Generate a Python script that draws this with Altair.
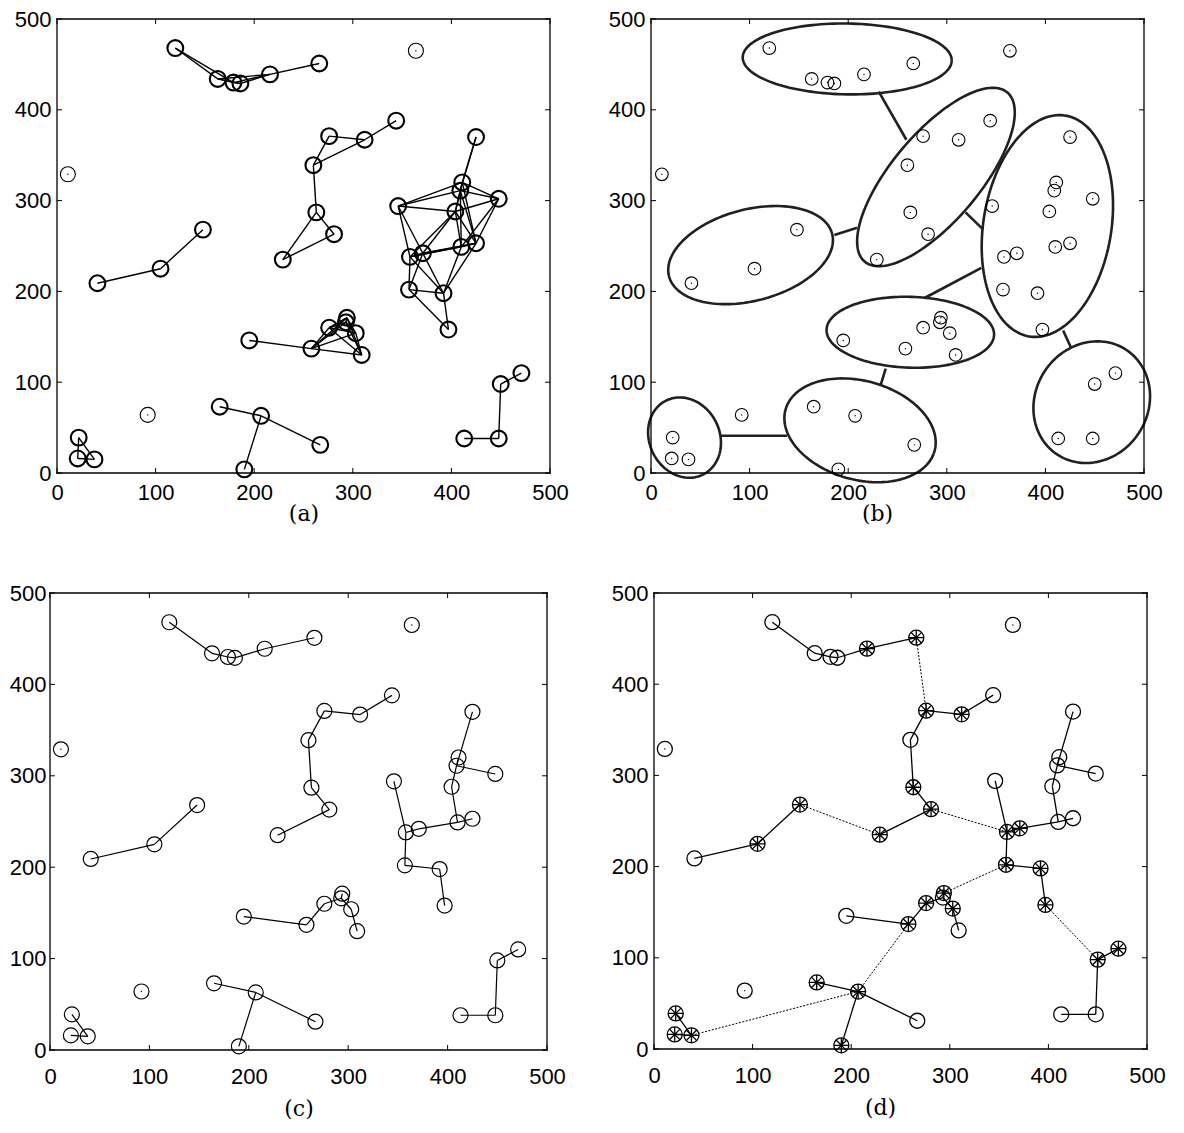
import altair as alt
import numpy as np
import pandas as pd

# ---------------- data ----------------
# node coordinates, nodes numbered 1..50
node_x = [120, 163, 179, 186, 216, 266, 364, 11, 148, 105, 41, 276, 312, 344, 260, 263, 281, 229,
          425, 411, 409, 448, 346, 404, 358, 371, 410, 425, 357, 392, 397, 195, 258, 276, 294, 293,
          303, 309, 165, 207, 190, 267, 92, 22, 21, 38, 413, 448, 450, 471]
node_y = [468, 434, 430, 429, 439, 451, 465, 329, 268, 225, 209, 371, 367, 388, 339, 287, 263, 235,
          370, 320, 311, 302, 294, 288, 238, 242, 249, 253, 202, 198, 158, 146, 137, 160, 171, 166,
          154, 130, 73, 63, 4, 31, 64, 39, 16, 15, 38, 38, 98, 110]
isolated_nodes = [7, 8, 43]

# (a) connectivity graph
edges_a = [(1, 2), (1, 3), (2, 3), (2, 4), (2, 5), (3, 4), (3, 5), (4, 5), (5, 6),
           (12, 13), (12, 15), (13, 14), (13, 15), (15, 16), (16, 17), (16, 18), (17, 18),
           (9, 10), (10, 11),
           (19, 20), (19, 21), (20, 21), (20, 22), (20, 23), (20, 24), (20, 28), (21, 22), (21, 23),
           (21, 24), (21, 27), (21, 28), (22, 24), (22, 27), (22, 28), (23, 24), (23, 25), (23, 26),
           (24, 25), (24, 26), (24, 27), (24, 28), (25, 26), (25, 27), (25, 28), (25, 29), (25, 30),
           (26, 27), (26, 28), (26, 29), (26, 30), (27, 28), (27, 30), (28, 30), (29, 30), (29, 31),
           (30, 31),
           (32, 33), (33, 34), (33, 35), (33, 36), (33, 37), (33, 38), (34, 35), (34, 36), (34, 37),
           (34, 38), (35, 36), (35, 37), (35, 38), (36, 37), (36, 38), (37, 38),
           (39, 40), (40, 41), (40, 42), (44, 45), (44, 46), (45, 46), (47, 48), (48, 49), (49, 50)]

# (c) spanning forest
edges_c = [(1, 2), (2, 3), (3, 4), (4, 5), (5, 6), (9, 10), (10, 11),
           (12, 13), (13, 14), (12, 15), (15, 16), (16, 17), (17, 18),
           (19, 21), (20, 21), (21, 22), (21, 24), (24, 27), (27, 28), (26, 27), (25, 26),
           (23, 25), (25, 29), (29, 30), (30, 31),
           (32, 33), (33, 34), (34, 36), (35, 36), (36, 37), (37, 38),
           (39, 40), (40, 41), (40, 42), (44, 46), (45, 46), (47, 48), (48, 49), (49, 50)]

# (d) extra dotted links and backbone (starred) nodes
edges_d_dotted = [(6, 12), (9, 18), (17, 25), (35, 29), (33, 40), (46, 40), (31, 49)]
starred_nodes = [5, 6, 9, 10, 12, 13, 16, 17, 18, 25, 26, 29, 30, 31, 33, 34, 35, 37,
                 39, 40, 41, 44, 45, 46, 49, 50]

# (b) cluster ellipses: centre, semi-axes, rotation (deg)
ell_cx = [199, 289, 402, 101, 263, 212, 34, 447]
ell_cy = [456, 326, 272, 240, 155, 47, 39, 78]
ell_a = [106, 118, 123, 86, 85, 79, 45, 68]
ell_b = [39, 46, 65, 50, 39, 54, 36, 58]
ell_ang = [-1, 53, 82, 17, -2, -19, 108, 71]

# (b) links between clusters
link_x1 = [231, 186, 319, 278, 418, 238, 71]
link_y1 = [420, 262, 287, 193, 157, 115, 41]
link_x2 = [259, 209, 337, 335, 426, 233, 138]
link_y2 = [367, 270, 268, 226, 138, 97, 41]

tick_vals = [0, 100, 200, 300, 400, 500]

# ---------------- tables ----------------
nodes = pd.DataFrame({"id": list(range(1, 51)), "x": node_x, "y": node_y})
nodes["isolated"] = nodes["id"].isin(isolated_nodes)
nodes["star"] = nodes["id"].isin(starred_nodes)


def edge_df(pairs):
    return pd.DataFrame({
        "x1": [node_x[i - 1] for i, j in pairs], "y1": [node_y[i - 1] for i, j in pairs],
        "x2": [node_x[j - 1] for i, j in pairs], "y2": [node_y[j - 1] for i, j in pairs]})


rows = []
for k in range(len(ell_cx)):
    th = np.deg2rad(ell_ang[k])
    for n, t in enumerate(np.linspace(0, 2 * np.pi, 145)):
        ex = ell_a[k] * np.cos(t)
        ey = ell_b[k] * np.sin(t)
        rows.append({"e": k, "o": n,
                     "x": ell_cx[k] + ex * np.cos(th) - ey * np.sin(th),
                     "y": ell_cy[k] + ex * np.sin(th) + ey * np.cos(th)})
ellipses = pd.DataFrame(rows)
links = pd.DataFrame({"x1": link_x1, "y1": link_y1, "x2": link_x2, "y2": link_y2})
ticks = pd.DataFrame({"t": tick_vals})

STAR = "M-1,0L1,0M0,-1L0,1M-0.707,-0.707L0.707,0.707M-0.707,0.707L0.707,-0.707"
FRAME_W = 1.3


def panel(title, layers_fn, lab_pad, title_pad, w, h, title_x=None, ylab_pad=6, xl=0,
          left_space=None):
    # xl: pixel position of the left frame line (the x scale starts there)
    xsc = alt.Scale(domain=[0, 500], range=[xl, w], nice=False, zero=False)
    ysc = alt.Scale(domain=[0, 500], nice=False, zero=False)
    xa = dict(values=tick_vals, title=title, ticks=False, domain=False, grid=False,
              labelPadding=lab_pad, titlePadding=title_pad, labelOverlap=False, labelBound=False,
              labelFlush=False)
    if title_x is not None:
        xa["titleX"] = title_x
    ya = dict(values=tick_vals, title=None, ticks=False, domain=False, grid=False,
              labelPadding=ylab_pad, labelOverlap=False, labelFlush=False)

    def X(f):
        return alt.X(f, type="quantitative", scale=xsc, axis=alt.Axis(**xa))

    def Y(f):
        return alt.Y(f, type="quantitative", scale=ysc, axis=alt.Axis(**ya))

    tk = alt.Chart(ticks)
    one = alt.Chart(ticks.head(1))
    extra = [
        tk.mark_rule(color="black", strokeWidth=1).encode(x=X("t"), y=alt.value(h), y2=alt.value(h - 5)),
        tk.mark_rule(color="black", strokeWidth=1).encode(x=X("t"), y=alt.value(0), y2=alt.value(5)),
        tk.mark_rule(color="black", strokeWidth=1).encode(y=Y("t"), x=alt.value(xl), x2=alt.value(xl + 5)),
        tk.mark_rule(color="black", strokeWidth=1).encode(y=Y("t"), x=alt.value(w), x2=alt.value(w - 5)),
        # frame
        one.mark_rule(color="black", strokeWidth=FRAME_W, strokeCap="square").encode(
            x=alt.value(xl), x2=alt.value(w), y=alt.value(0)),
        one.mark_rule(color="black", strokeWidth=FRAME_W, strokeCap="square").encode(
            x=alt.value(xl), x2=alt.value(w), y=alt.value(h)),
        one.mark_rule(color="black", strokeWidth=FRAME_W, strokeCap="square").encode(
            x=alt.value(xl), y=alt.value(0), y2=alt.value(h)),
        one.mark_rule(color="black", strokeWidth=FRAME_W, strokeCap="square").encode(
            x=alt.value(w), y=alt.value(0), y2=alt.value(h)),
    ]
    if left_space is not None:
        # invisible spacer reserving room on the left of the panel
        extra.append(one.mark_rule(strokeOpacity=0, color="white").encode(
            x=alt.value(-left_space), x2=alt.value(-left_space + 1),
            y=alt.value(200), y2=alt.value(201)))
    return alt.layer(*layers_fn(X, Y), *extra).properties(width=w, height=h)


def layers_a(X, Y):
    return [
        alt.Chart(edge_df(edges_a)).mark_rule(color="black", strokeWidth=1.4).encode(
            x=X("x1"), y=Y("y1"), x2="x2", y2="y2"),
        alt.Chart(nodes[~nodes.isolated]).mark_point(shape="circle", filled=False, size=250,
                                                     color="black", strokeWidth=2.1, opacity=1).encode(
            x=X("x"), y=Y("y")),
        alt.Chart(nodes[nodes.isolated]).mark_point(shape="circle", filled=False, size=225,
                                                    color="black", strokeWidth=1.1, opacity=1).encode(
            x=X("x"), y=Y("y")),
        alt.Chart(nodes[nodes.isolated]).mark_point(shape="circle", filled=True, size=2,
                                                    color="black", opacity=1).encode(x=X("x"), y=Y("y")),
    ]


def layers_b(X, Y):
    return [
        alt.Chart(links).mark_rule(color="#231f20", strokeWidth=2.6).encode(
            x=X("x1"), y=Y("y1"), x2="x2", y2="y2"),
        alt.Chart(ellipses).mark_line(color="#231f20", strokeWidth=2.6, clip=False).encode(
            x=X("x"), y=Y("y"), order="o:Q", detail="e:N"),
        alt.Chart(nodes).mark_point(shape="circle", filled=False, size=160, color="black",
                                    strokeWidth=1.1, opacity=1).encode(x=X("x"), y=Y("y")),
        alt.Chart(nodes).mark_point(shape="circle", filled=True, size=2, color="black",
                                    opacity=1).encode(x=X("x"), y=Y("y")),
    ]


def layers_c(X, Y):
    return [
        alt.Chart(edge_df(edges_c)).mark_rule(color="black", strokeWidth=1.2).encode(
            x=X("x1"), y=Y("y1"), x2="x2", y2="y2"),
        alt.Chart(nodes).mark_point(shape="circle", filled=False, size=225, color="black",
                                    strokeWidth=1.2, opacity=1).encode(x=X("x"), y=Y("y")),
        alt.Chart(nodes[nodes.isolated]).mark_point(shape="circle", filled=True, size=2,
                                                    color="black", opacity=1).encode(x=X("x"), y=Y("y")),
    ]


def layers_d(X, Y):
    return [
        alt.Chart(edge_df(edges_d_dotted)).mark_rule(color="black", strokeWidth=1,
                                                     strokeDash=[2, 1.5]).encode(
            x=X("x1"), y=Y("y1"), x2="x2", y2="y2"),
        alt.Chart(edge_df(edges_c)).mark_rule(color="black", strokeWidth=1.3).encode(
            x=X("x1"), y=Y("y1"), x2="x2", y2="y2"),
        alt.Chart(nodes).mark_point(shape="circle", filled=False, size=225, color="black",
                                    strokeWidth=1.3, opacity=1).encode(x=X("x"), y=Y("y")),
        alt.Chart(nodes[nodes.star]).mark_point(shape=STAR, filled=False, size=225, color="black",
                                                strokeWidth=1.3, opacity=1).encode(x=X("x"), y=Y("y")),
        alt.Chart(nodes[nodes.isolated]).mark_point(shape="circle", filled=True, size=2,
                                                    color="black", opacity=1).encode(x=X("x"), y=Y("y")),
    ]


pa = panel("(a)", layers_a, 9, 0, 493, 454, left_space=49)
pb = panel("(b)", layers_b, 9, 0, 493, 454, title_x=226)
pc = panel("(c)", layers_c, 16, 11, 490, 457, ylab_pad=11, xl=-7)
pd_ = panel("(d)", layers_d, 16, 11, 493, 456, title_x=226, left_space=46)

chart = alt.concat(
    pa, pb, pc, pd_, columns=2, align="none",
    spacing={"row": 58, "column": 39},
).properties(
    padding={"left": 0, "top": 0, "right": 0, "bottom": 0}
).configure_view(
    strokeWidth=0, stroke=None
).configure_axis(
    labelFont="Liberation Sans", labelFontSize=22, labelColor="black",
    titleFont="DejaVu Serif", titleFontSize=22, titleFontWeight="normal", titleColor="black"
)

chart.save("out.html", embed_options={"renderer": "svg", "actions": False})
